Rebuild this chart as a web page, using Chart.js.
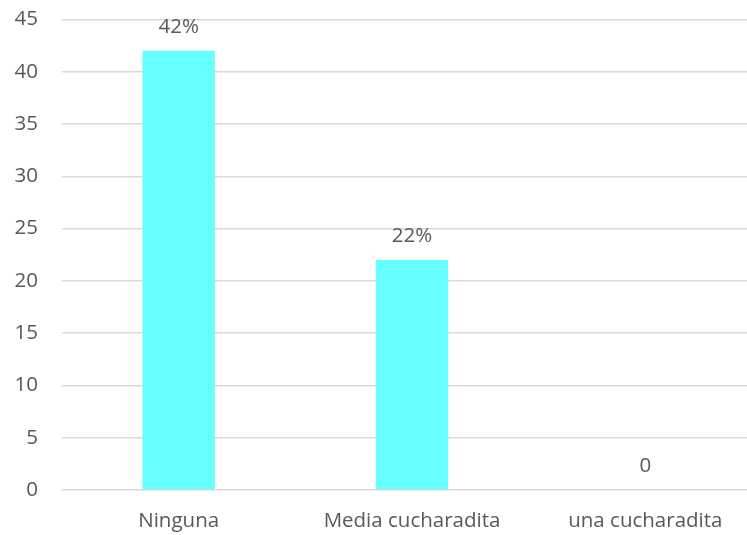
<!DOCTYPE html>
<html>
<head>
<meta charset="utf-8">
<script src="https://cdn.jsdelivr.net/npm/chart.js@4/dist/chart.umd.min.js"></script>
<style>
  html, body { margin: 0; padding: 0; background: #fff; overflow: hidden; }
  #wrap { width: 762px; height: 535px; position: relative; }
</style>
</head>
<body>
<div id="wrap"><canvas id="grafico"></canvas></div>
<script>
// Datos del gráfico
const categorias = ['Ninguna', 'Media cucharadita', 'una cucharadita'];
const valores = [42, 22, 0];
const etiquetas = ['42%', '22%', '0'];

const GRIS_TEXTO = '#595959';
const FUENTE = '"Open Sans", sans-serif';
const TAM = 20.5;

// Escribe la etiqueta encima de cada barra
const etiquetasBarras = {
    id: 'etiquetasBarras',
    afterDatasetsDraw(chart) {
        const ctx = chart.ctx;
        const meta = chart.getDatasetMeta(0);
        ctx.save();
        ctx.font = TAM + 'px ' + FUENTE;
        ctx.fillStyle = GRIS_TEXTO;
        ctx.textAlign = 'center';
        ctx.textBaseline = 'middle';
        meta.data.forEach((bar, i) => {
            ctx.fillText(etiquetas[i], bar.x, bar.y - 24);
        });
        ctx.restore();
    }
};

new Chart(document.getElementById('grafico'), {
    type: 'bar',
    data: {
        labels: categorias,
        datasets: [{
            data: valores,
            backgroundColor: '#66FFFF',
            barPercentage: 0.31,
            categoryPercentage: 1
        }]
    },
    options: {
        responsive: true,
        maintainAspectRatio: false,
        animation: false,
        layout: { padding: { top: 19.5, right: 0, bottom: 0, left: 0 } },
        plugins: {
            legend: { display: false },
            tooltip: { enabled: false }
        },
        scales: {
            x: {
                grid: { display: false },
                border: { display: false },
                ticks: { color: GRIS_TEXTO, font: { family: FUENTE, size: TAM }, padding: 11, maxRotation: 0 },
                afterFit(scale) { scale.height = 45; }
            },
            y: {
                min: 0,
                max: 45,
                ticks: { stepSize: 5, color: GRIS_TEXTO, font: { family: FUENTE, size: TAM }, padding: 24 },
                grid: { color: '#d9d9d9', lineWidth: 1.5, drawTicks: false },
                border: { display: false },
                afterFit(scale) {
                    scale.width = 62;
                    scale.paddingTop = 0;
                    scale.paddingBottom = 0;
                }
            }
        }
    },
    plugins: [etiquetasBarras]
});
</script>
</body>
</html>
